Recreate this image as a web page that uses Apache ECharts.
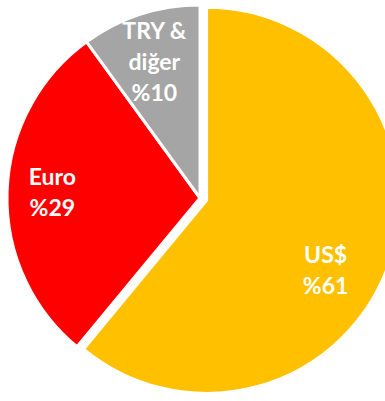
<!DOCTYPE html>
<html>
<head>
<meta charset="utf-8">
<script src="https://cdn.jsdelivr.net/npm/echarts@6/dist/echarts.min.js"></script>
<style>
  html, body { margin: 0; padding: 0; background: #ffffff; }
  #chart { width: 385px; height: 401px; }
</style>
</head>
<body>
<div id="chart"></div>
<script>
// Currency breakdown (percent)
const currencies = ['US$', 'Euro', 'TRY &\ndiğer'];
const shares = [61, 29, 10];
const sliceColors = ['#FFC000', '#FF0000', '#A5A5A5'];

const CENTER = [200, 198];
const RADIUS = 193;
const EXPLODE = 7;

// small nudges for individual labels
const labelNudge = [
  { dx: -20, dy: 19 },
  { dx: 0, dy: -2 },
  { dx: 0, dy: 4 }
];

function buildSlices(colored) {
  return currencies.map((name, i) => ({
    name: name,
    value: shares[i],
    selected: i === 0,
    itemStyle: { color: colored ? sliceColors[i] : 'rgba(0,0,0,0)' }
  }));
}

const chart = echarts.init(document.getElementById('chart'), null, { renderer: 'svg' });

chart.setOption({
  animation: false,
  series: [
    {
      // the pie itself, US$ slice pulled out
      type: 'pie',
      center: CENTER,
      radius: [0, RADIUS],
      startAngle: 90,
      clockwise: true,
      avoidLabelOverlap: false,
      selectedMode: 'single',
      selectedOffset: EXPLODE,
      label: { show: false },
      labelLine: { show: false },
      itemStyle: { borderColor: '#ffffff', borderWidth: 3 },
      emphasis: { disabled: true },
      data: buildSlices(true)
    },
    {
      // invisible twin, wider, so 'inside' labels sit nearer the rim
      type: 'pie',
      center: CENTER,
      radius: [0, RADIUS * 1.5],
      startAngle: 90,
      clockwise: true,
      avoidLabelOverlap: false,
      selectedMode: 'single',
      selectedOffset: EXPLODE,
      silent: true,
      emphasis: { disabled: true },
      labelLine: { show: false },
      label: {
        show: true,
        position: 'inside',
        formatter: p => p.name + '\n%' + p.value,
        color: '#ffffff',
        fontFamily: 'Lato',
        fontWeight: 'bold',
        fontSize: 23,
        lineHeight: 31,
        align: 'center'
      },
      labelLayout: p => labelNudge[p.dataIndex],
      data: buildSlices(false)
    }
  ]
});
</script>
</body>
</html>
